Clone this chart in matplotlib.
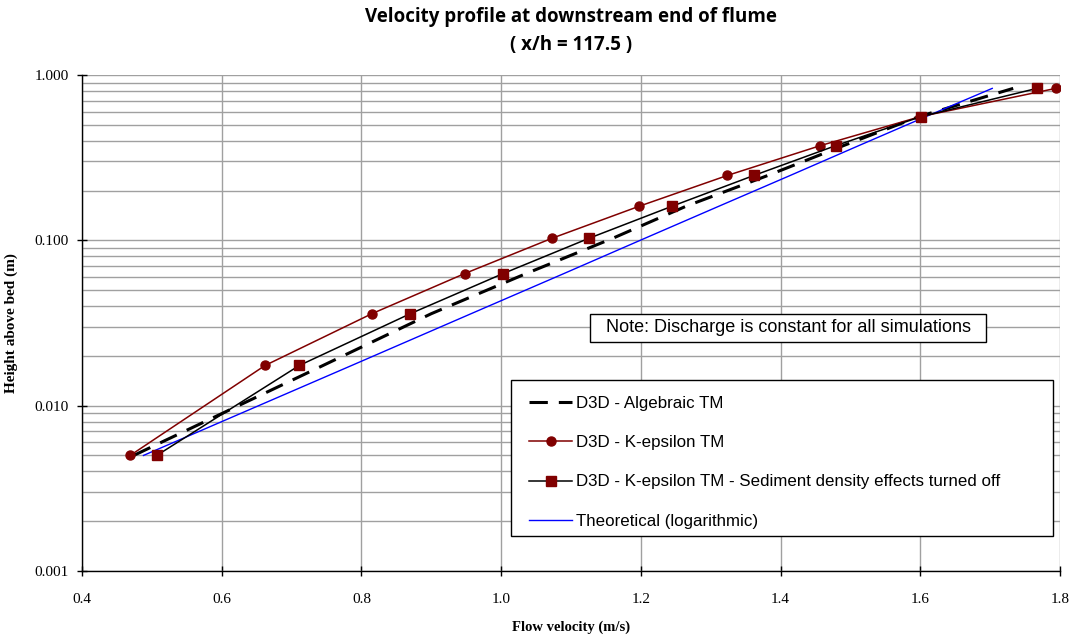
import matplotlib
matplotlib.use('Agg')
from matplotlib import pyplot as plt
from matplotlib.patches import Rectangle
from matplotlib.ticker import FixedLocator, FixedFormatter, LogLocator, NullFormatter

# heights above bed (m) of the model layers
heights = [0.005, 0.0175, 0.036, 0.063, 0.103, 0.161, 0.247, 0.374, 0.56, 0.83]

# velocities (m/s)
u_algebraic = [0.474, 0.745, 0.900, 1.036, 1.160, 1.265, 1.382, 1.490, 1.598, 1.733]
u_kepsilon = [0.469, 0.662, 0.815, 0.948, 1.073, 1.198, 1.324, 1.457, 1.600, 1.794]
u_kepsilon_nosed = [0.507, 0.711, 0.870, 1.003, 1.126, 1.245, 1.362, 1.479, 1.601, 1.767]
u_theory = [0.488, 0.786, 0.957, 1.090, 1.206, 1.312, 1.414, 1.512, 1.608, 1.703]

x_ticks = [0.4, 0.6, 0.8, 1.0, 1.2, 1.4, 1.6, 1.8]
y_ticks = [0.001, 0.01, 0.1, 1.0]
y_labels = ['0.001', '0.010', '0.100', '1.000']

W, H = 1073, 639
fig = plt.figure(figsize=(W / 100, H / 100), dpi=100)
ax = fig.add_axes([82 / W, (H - 571) / H, 978 / W, 496 / H])


def px(x, y):
    # pixel position in the picture -> axes fraction
    return (x - 82) / 978, (571 - y) / 496


maroon = '#800000'
ax.plot(u_algebraic, heights, color='black', lw=2.2, dashes=(6, 3.6),
        label='D3D - Algebraic TM', zorder=3)
ax.plot(u_kepsilon, heights, color=maroon, lw=1.1, marker='o', ms=6.5,
        mfc=maroon, mec=maroon, label='D3D - K-epsilon TM', zorder=4)
ax.plot(u_kepsilon_nosed, heights, color='black', lw=1.1, marker='s', ms=6.5,
        mfc=maroon, mec=maroon,
        label='D3D - K-epsilon TM - Sediment density effects turned off', zorder=4)
ax.plot(u_theory, heights, color='#0000ff', lw=1.0,
        label='Theoretical (logarithmic)', zorder=3)

ax.set_yscale('log')
ax.set_xlim(0.4, 1.8)
ax.set_ylim(0.001, 1.0)

ax.xaxis.set_major_locator(FixedLocator(x_ticks))
ax.set_xticklabels(['%.1f' % v for v in x_ticks])
ax.yaxis.set_major_locator(FixedLocator(y_ticks))
ax.yaxis.set_major_formatter(FixedFormatter(y_labels))
ax.yaxis.set_minor_locator(LogLocator(base=10, subs=range(2, 10)))
ax.yaxis.set_minor_formatter(NullFormatter())

ax.grid(True, which='major', color='#a0a0a0', lw=1.0)
ax.grid(True, which='minor', axis='y', color='#a0a0a0', lw=1.0)
ax.set_axisbelow(True)
for s in ['top', 'right']:
    ax.spines[s].set_visible(False)
for s in ['left', 'bottom']:
    ax.spines[s].set_color('black')
    ax.spines[s].set_linewidth(1.0)
ax.tick_params(which='major', direction='inout', length=7, width=1, colors='black',
               labelsize=11, pad=6)
ax.tick_params(which='minor', length=0)
for lab in ax.get_xticklabels() + ax.get_yticklabels():
    lab.set_family('Liberation Serif')
ax.tick_params(axis='x', pad=12)

ax.set_xlabel('Flow velocity (m/s)', family='Liberation Serif', weight='bold',
              fontsize=10.5, labelpad=11)
ax.set_ylabel('Height above bed (m)', family='Liberation Serif', weight='bold',
              fontsize=11, labelpad=12)

fig.text(0.5 * (82 + 1060) / W, 1 - 17 / H, 'Velocity profile at downstream end of flume',
         ha='center', va='center', family='Open Sans', weight='bold', fontsize=13.5)
fig.text(0.5 * (82 + 1060) / W, 1 - 45 / H, '( x/h = 117.5 )',
         ha='center', va='center', family='Open Sans', weight='bold', fontsize=13.5)

# note box
x0, y0 = px(590, 342)
x1, y1 = px(986, 314)
ax.add_patch(Rectangle((x0, y0), x1 - x0, y1 - y0, transform=ax.transAxes,
                       fc='white', ec='black', lw=1, zorder=5))
ax.text(*px(788.5, 328), 'Note: Discharge is constant for all simulations',
        transform=ax.transAxes, ha='center', va='center',
        family='Liberation Sans', fontsize=13, zorder=6)

# legend box
x0, y0 = px(511, 536)
x1, y1 = px(1053, 380)
ax.add_patch(Rectangle((x0, y0), x1 - x0, y1 - y0, transform=ax.transAxes,
                       fc='white', ec='black', lw=1, zorder=5))
leg = ax.legend(loc='upper left', bbox_to_anchor=px(529, 396),
                prop={'family': 'Liberation Sans', 'size': 12.2},
                frameon=False, handlelength=2.55, handletextpad=0.25,
                labelspacing=1.43, borderpad=0, borderaxespad=0)
leg.set_zorder(6)

fig.savefig('out.png', dpi=100)
